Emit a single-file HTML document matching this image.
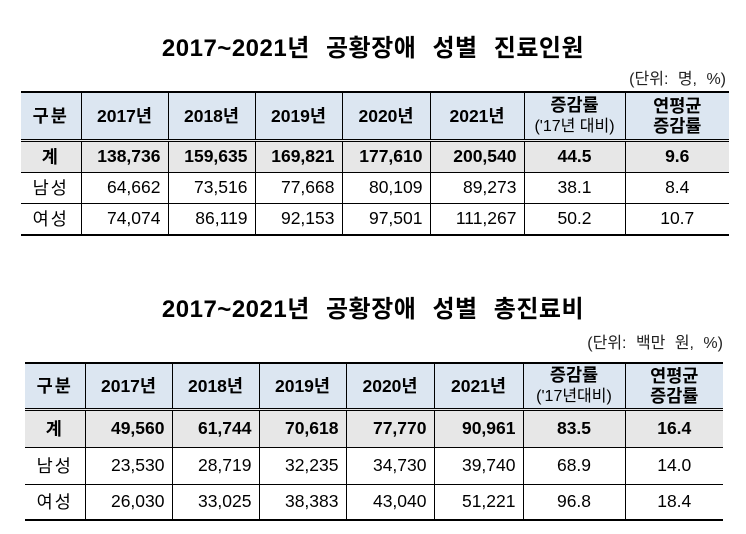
<!DOCTYPE html>
<html><head><meta charset="utf-8"><style>
body{margin:0;width:746px;height:534px;background:#fff;position:relative;font-family:"Liberation Sans","Noto Sans CJK KR",sans-serif;color:#000;overflow:hidden}
.t{position:absolute;left:0;width:746px;text-align:center;font-weight:bold;font-size:24px;word-spacing:9px;letter-spacing:0.5px}
.u{position:absolute;font-size:16px;color:#222;word-spacing:5px}
table{position:absolute;border-collapse:collapse;table-layout:fixed;font-size:17.5px}
td{border-left:1px solid #000;border-right:1px solid #000;border-bottom:1px solid #000;padding:0 7px;text-align:right;white-space:nowrap}
td:first-child{border-left:none;text-align:center;padding:0;letter-spacing:2px}
td:last-child{border-right:none}
tr.h td{background:#dce6f1;font-weight:bold;text-align:center;border-top:2px solid #000;border-bottom:3px double #000;line-height:20px;padding:0}
tr.s td{background:#e7e7e7;font-weight:bold}
tr.last td{border-bottom:2px solid #000}
td.c{text-align:center}
.sm{font-size:16px;font-weight:normal}
</style></head><body>
<div class="t" style="top:28px">2017~2021년 공황장애 성별 진료인원</div>
<div class="u" style="top:65px;right:20px">(단위: 명, %)</div>
<table style="left:21px;top:91px;width:708px">
<colgroup><col style="width:60px"><col style="width:87px"><col style="width:87px"><col style="width:87px"><col style="width:88px"><col style="width:94px"><col style="width:101px"><col style="width:104px"></colgroup>
<tr class="h" style="height:48px"><td>구분</td><td>2017년</td><td>2018년</td><td>2019년</td><td>2020년</td><td>2021년</td><td>증감률<br><span class="sm">('17년 대비)</span></td><td>연평균<br>증감률</td></tr>
<tr class="s" style="height:32px"><td>계</td><td>138,736</td><td>159,635</td><td>169,821</td><td>177,610</td><td>200,540</td><td class="c">44.5</td><td class="c">9.6</td></tr>
<tr style="height:31px"><td>남성</td><td>64,662</td><td>73,516</td><td>77,668</td><td>80,109</td><td>89,273</td><td class="c">38.1</td><td class="c">8.4</td></tr>
<tr class="last" style="height:32px"><td>여성</td><td>74,074</td><td>86,119</td><td>92,153</td><td>97,501</td><td>111,267</td><td class="c">50.2</td><td class="c">10.7</td></tr>
</table>
<div class="t" style="top:289px">2017~2021년 공황장애 성별 총진료비</div>
<div class="u" style="top:329px;right:23px">(단위: 백만 원, %)</div>
<table style="left:25px;top:362px;width:698px">
<colgroup><col style="width:60px"><col style="width:87px"><col style="width:87px"><col style="width:87px"><col style="width:88px"><col style="width:89px"><col style="width:102px"><col style="width:98px"></colgroup>
<tr class="h" style="height:46px"><td>구분</td><td>2017년</td><td>2018년</td><td>2019년</td><td>2020년</td><td>2021년</td><td>증감률<br><span class="sm">('17년대비)</span></td><td>연평균<br>증감률</td></tr>
<tr class="s" style="height:38px"><td>계</td><td>49,560</td><td>61,744</td><td>70,618</td><td>77,770</td><td>90,961</td><td class="c">83.5</td><td class="c">16.4</td></tr>
<tr style="height:37px"><td>남성</td><td>23,530</td><td>28,719</td><td>32,235</td><td>34,730</td><td>39,740</td><td class="c">68.9</td><td class="c">14.0</td></tr>
<tr class="last" style="height:36px"><td>여성</td><td>26,030</td><td>33,025</td><td>38,383</td><td>43,040</td><td>51,221</td><td class="c">96.8</td><td class="c">18.4</td></tr>
</table>
</body></html>
